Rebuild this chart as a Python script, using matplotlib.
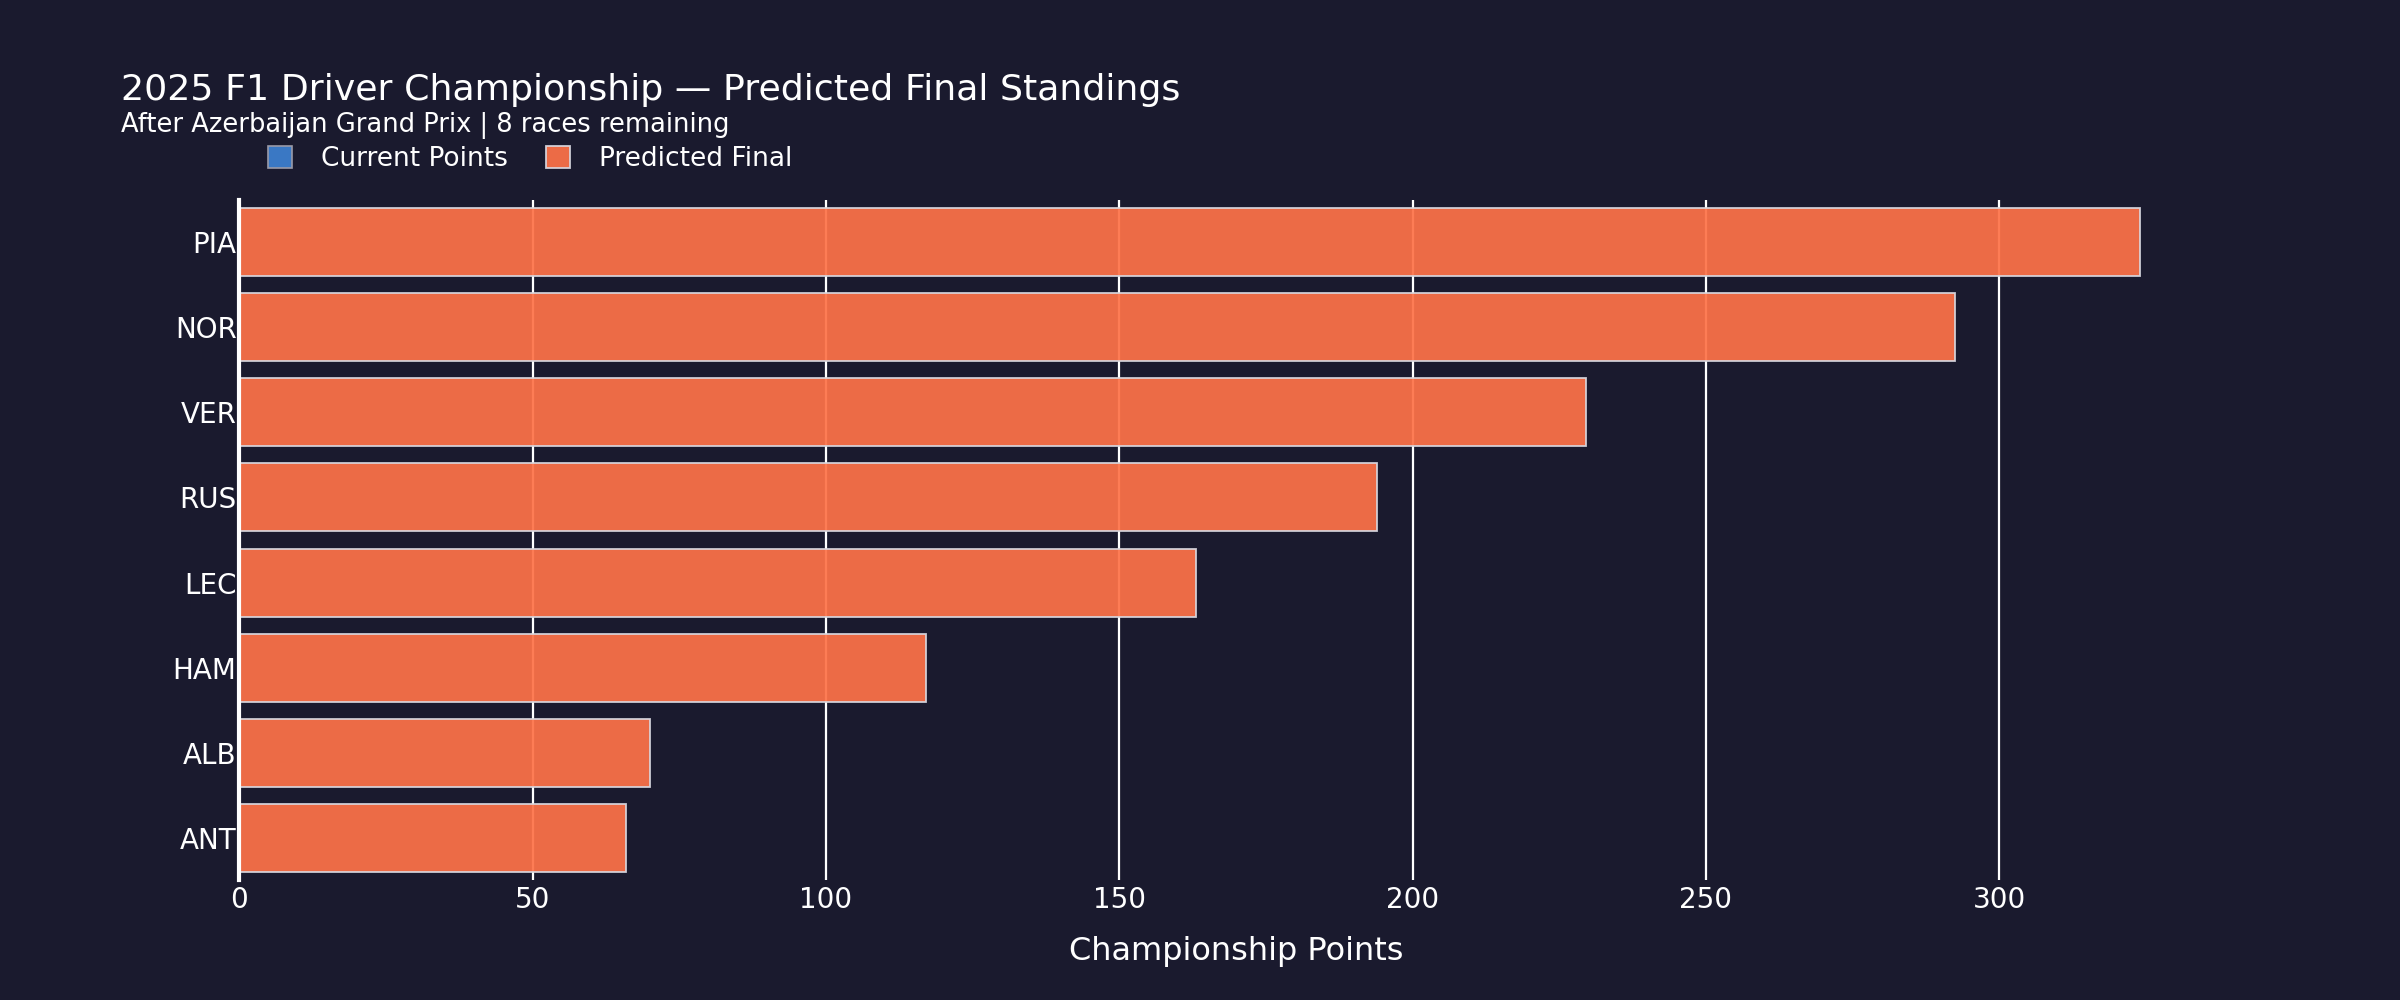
import numpy as np
import matplotlib.pyplot as plt

# Driver data (top to bottom as shown)
drivers = ['PIA', 'NOR', 'VER', 'RUS', 'LEC', 'HAM', 'ALB', 'ANT']
current_points = [0, 0, 0, 0, 0, 0, 0, 0]          # not visible in the picture
predicted_final = [324, 292.5, 229.5, 194, 163, 117, 70, 66]

bg = '#1a1a2e'
blue = '#3a78c4'
orange = '#fd7248'

fig = plt.figure(figsize=(24, 10), dpi=100, facecolor=bg)
ax = fig.add_axes([0.0997, 0.1198, 0.8311, 0.6804], facecolor=bg)

y = np.arange(len(drivers))
ax.barh(y, current_points, height=0.8, color=blue, edgecolor='#9a9aa8',
        linewidth=1.2, label='Current Points', zorder=2)
ax.barh(y, predicted_final, height=0.8, color=orange, alpha=0.93,
        edgecolor='#d8d8e0', linewidth=1.3, label='Predicted Final', zorder=3)

ax.set_ylim(len(drivers) - 0.5, -0.5)
ax.set_xlim(0, 340)
ax.set_yticks(y)
ax.set_yticklabels(drivers)
ax.set_xticks([0, 50, 100, 150, 200, 250, 300])

ax.grid(axis='x', color='white', linewidth=1.6, zorder=0)
ax.set_axisbelow(True)
for s in ['top', 'right', 'bottom']:
    ax.spines[s].set_visible(False)
ax.spines['left'].set_color('white')
ax.spines['left'].set_linewidth(3)
ax.spines['left'].set_zorder(4)

ax.tick_params(axis='both', length=0, colors='white', labelsize=20)
ax.tick_params(axis='y', pad=2)
ax.tick_params(axis='x', pad=4)

ax.set_xlabel('Championship Points', color='white', fontsize=23, labelpad=16)

fig.text(0.0505, 0.900, '2025 F1 Driver Championship \u2014 Predicted Final Standings',
         color='white', fontsize=26.2, ha='left', va='baseline')
fig.text(0.0505, 0.868, 'After Azerbaijan Grand Prix | 8 races remaining',
         color='white', fontsize=18.5, ha='left', va='baseline')

leg = fig.legend(loc='center left', bbox_to_anchor=(267.7 / 2400, 1 - 159 / 1000),
                 ncol=2, frameon=False, fontsize=19, handlelength=0.93,
                 handleheight=0.93, handletextpad=1.08, columnspacing=1.44,
                 borderpad=0, borderaxespad=0)
for t in leg.get_texts():
    t.set_color('white')

fig.savefig('out.png', dpi=100, facecolor=bg)
